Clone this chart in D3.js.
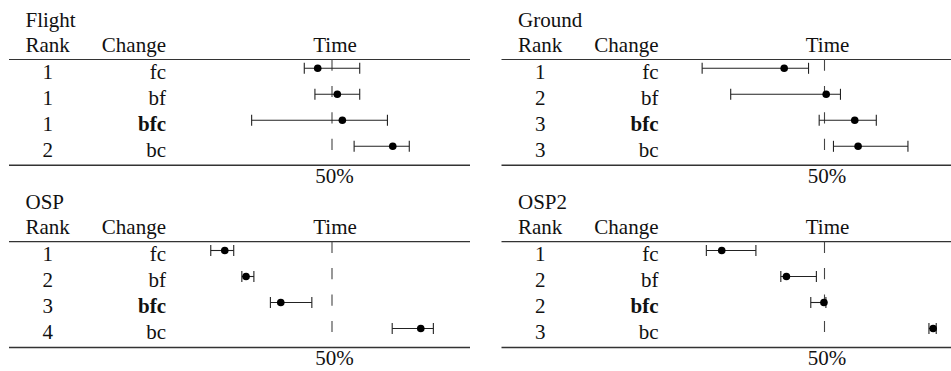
<!DOCTYPE html>
<html>
<head>
<meta charset="utf-8">
<script src="https://cdn.jsdelivr.net/npm/d3@7"></script>
<style>
    body { margin: 0; background: #fff; }
    svg text { font-family: "Liberation Serif", "Times New Roman", serif; font-size: 21px; fill: #111; }
</style>
</head>
<body>
<svg id="chart" width="951" height="371"></svg>
<script>
// data (time as % position, 50 = reference)
const panelNames = ["Flight", "Ground", "OSP", "OSP2"];
const changes = ["fc", "bf", "bfc", "bc"];
const boldChange = "bfc";

const flightRanks = [1, 1, 1, 2];
const flightMid = [44.9, 51.9, 53.7, 71.7];
const flightLo = [40.1, 43.9, 21.3, 57.9];
const flightHi = [59.9, 59.9, 69.8, 77.6];

const groundRanks = [1, 2, 3, 3];
const groundMid = [35.6, 50.6, 60.8, 62.0];
const groundLo = [6.3, 16.5, 48.1, 53.2];
const groundHi = [44.3, 55.7, 68.5, 79.8];

const ospRanks = [1, 2, 3, 4];
const ospMid = [11.7, 19.3, 31.7, 81.7];
const ospLo = [6.7, 17.8, 28.0, 71.5];
const ospHi = [14.9, 22.1, 42.8, 86.2];

const osp2Ranks = [1, 2, 2, 3];
const osp2Mid = [13.3, 36.4, 49.8, 88.8];
const osp2Lo = [7.8, 34.4, 45.1, 87.3];
const osp2Hi = [25.5, 47.1, 50.5, 89.9];

const refValue = 50;
const refLabel = "50%";

const panelData = [
    { ranks: flightRanks, mid: flightMid, lo: flightLo, hi: flightHi },
    { ranks: groundRanks, mid: groundMid, lo: groundLo, hi: groundHi },
    { ranks: ospRanks, mid: ospMid, lo: ospLo, hi: ospHi },
    { ranks: osp2Ranks, mid: osp2Mid, lo: osp2Lo, hi: osp2Hi },
];
const origins = [[9, 0], [501.5, 0], [9, 182.2], [501.5, 182.2]];

const svg = d3.select("#chart");
const x = d3.scaleLinear().domain([0, 100]).range([183, 463]);
const y = d3.scalePoint().domain(changes).range([68.3, 146.3]);
const ruleTop = 59.5, ruleBottom = 165.2, ruleWidth = 461;

panelNames.forEach((name, i) => {
    let d = panelData[i];
    let g = svg.append("g")
        .attr("transform", `translate(${origins[i][0]},${origins[i][1]})`);

    // headers
    g.append("text").attr("x", 16.5).attr("y", 26.7).text(name);
    g.append("text").attr("x", 38.7).attr("y", 52.3)
        .attr("text-anchor", "middle").text("Rank");
    g.append("text").attr("x", 157).attr("y", 52.3)
        .attr("text-anchor", "end").text("Change");
    g.append("text").attr("x", 326).attr("y", 52.3)
        .attr("text-anchor", "middle").text("Time");

    // rules
    g.append("line")
        .attr("x1", 0).attr("x2", ruleWidth)
        .attr("y1", ruleTop).attr("y2", ruleTop)
        .attr("stroke", "#333").attr("stroke-width", 1.2);
    g.append("line")
        .attr("x1", 0).attr("x2", ruleWidth)
        .attr("y1", ruleBottom).attr("y2", ruleBottom)
        .attr("stroke", "#333").attr("stroke-width", 1.5);

    // reference line
    g.append("line")
        .attr("x1", x(refValue)).attr("x2", x(refValue))
        .attr("y1", ruleTop).attr("y2", ruleBottom)
        .attr("stroke", "#444").attr("stroke-width", 1.1)
        .attr("stroke-dasharray", "11.2 15.2");
    g.append("text")
        .attr("x", 325.5).attr("y", 183.3)
        .attr("text-anchor", "middle")
        .text(refLabel);

    changes.forEach((c, j) => {
        let yy = y(c);
        g.append("text").attr("x", 38.7).attr("y", yy + 10.8)
            .attr("text-anchor", "middle").text(d.ranks[j]);
        g.append("text").attr("x", 157).attr("y", yy + 10.8)
            .attr("text-anchor", "end")
            .attr("font-weight", c === boldChange ? "bold" : null)
            .text(c);

        // error bar
        let eb = g.append("g").attr("stroke", "#222").attr("stroke-width", 1.1);
        eb.append("line")
            .attr("x1", x(d.lo[j])).attr("x2", x(d.hi[j]))
            .attr("y1", yy).attr("y2", yy);
        [d.lo[j], d.hi[j]].forEach(v => {
            eb.append("line")
                .attr("x1", x(v)).attr("x2", x(v))
                .attr("y1", yy - 5.5).attr("y2", yy + 5.5);
        });
        g.append("circle")
            .attr("cx", x(d.mid[j])).attr("cy", yy)
            .attr("r", 3.8).attr("fill", "#000");
    });
});
</script>
</body>
</html>
